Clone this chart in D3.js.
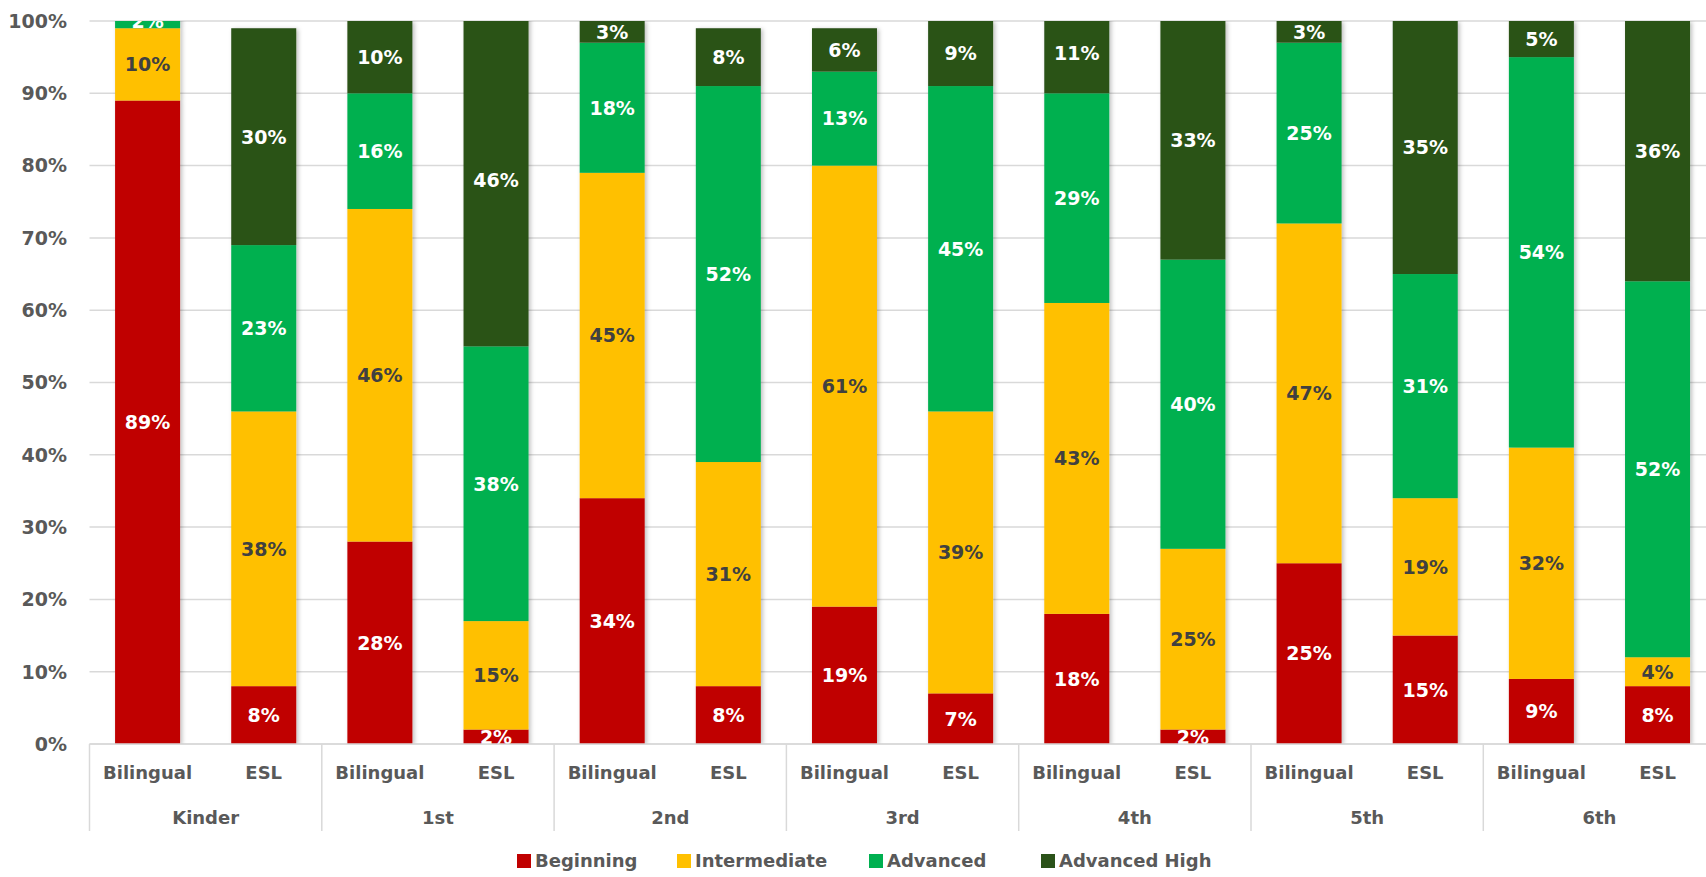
<!DOCTYPE html>
<html>
<head>
<meta charset="utf-8">
<script src="https://cdn.jsdelivr.net/npm/d3@7"></script>
<style>
  body { margin: 0; background: #fff; }
  text { font-family: "DejaVu Sans", Lato, sans-serif; font-weight: bold; }
</style>
</head>
<body>
<div id="chart"></div>
<script>

// data
let grades = ["Kinder", "1st", "2nd", "3rd", "4th", "5th", "6th"];
let programs = ["Bilingual", "ESL"];
let levels = ["Beginning", "Intermediate", "Advanced", "Advanced High"];
let colors = ["#C00000", "#FFC000", "#00B050", "#2B5219"];
let labelColors = ["#ffffff", "#404040", "#ffffff", "#ffffff"];

// one row per bar, in the order Kinder Bilingual, Kinder ESL, 1st Bilingual ...
let beginning    = [89,  8, 28,  2, 34,  8, 19,  7, 18,  2, 25, 15,  9,  8];
let intermediate = [10, 38, 46, 15, 45, 31, 61, 39, 43, 25, 47, 19, 32,  4];
let advanced     = [ 2, 23, 16, 38, 18, 52, 13, 45, 29, 40, 25, 31, 54, 52];
let advancedHigh = [ 0, 30, 10, 46,  3,  8,  6,  9, 11, 33,  3, 35,  5, 36];
let yTicks = [0, 10, 20, 30, 40, 50, 60, 70, 80, 90, 100];

let series = [beginning, intermediate, advanced, advancedHigh];

let bars = [];
grades.forEach(function(g, gi) {
    programs.forEach(function(p, pi) {
        let i = gi * programs.length + pi;
        let y0 = 0;
        let segs = series.map(function(s, li) {
            let seg = { level: li, y0: y0, y1: y0 + s[i], value: s[i] };
            y0 += s[i];
            return seg;
        });
        bars.push({ key: g + "|" + p, grade: g, program: p, segs: segs });
    });
});

let W = 1706, H = 877;
let plotLeft = 89.5, step = 116.15, barW = 65;
let plotTop = 21, plotBottom = 744;

let svg = d3.select("#chart")
            .append("svg")
            .attr("width", W)
            .attr("height", H);

let x = d3.scaleBand()
          .domain(bars.map(function(d) { return d.key; }))
          .range([plotLeft, plotLeft + step * bars.length])
          .padding(0);

let y = d3.scaleLinear()
          .domain([0, 100])
          .range([plotBottom, plotTop]);

// gridlines
svg.append("g")
   .selectAll("line")
   .data(yTicks)
   .enter()
   .append("line")
   .attr("x1", plotLeft)
   .attr("x2", W)
   .attr("y1", function(d) { return y(d); })
   .attr("y2", function(d) { return y(d); })
   .attr("stroke", "#d9d9d9")
   .attr("stroke-width", 1.5);

// y tick labels
svg.append("g")
   .selectAll("text")
   .data(yTicks)
   .enter()
   .append("text")
   .attr("x", 67)
   .attr("y", function(d) { return y(d); })
   .attr("dy", "0.36em")
   .attr("text-anchor", "end")
   .attr("fill", "#595959")
   .style("font-size", "19px")
   .text(function(d) { return d + "%"; });

let defs = svg.append("defs");
defs.append("clipPath")
    .attr("id", "plotClip")
    .append("rect")
    .attr("x", plotLeft)
    .attr("y", plotTop)
    .attr("width", W - plotLeft)
    .attr("height", plotBottom - plotTop);

let shadow = defs.append("filter")
                 .attr("id", "shadow")
                 .attr("x", "-20%").attr("y", "-5%")
                 .attr("width", "140%").attr("height", "110%");
shadow.append("feDropShadow")
      .attr("dx", 2).attr("dy", 1)
      .attr("stdDeviation", 2)
      .attr("flood-color", "#000")
      .attr("flood-opacity", 0.25);

let plot = svg.append("g").attr("clip-path", "url(#plotClip)");

let barG = plot.selectAll(".bar")
               .data(bars)
               .enter()
               .append("g")
               .attr("class", "bar")
               .attr("transform", function(d) {
                   return "translate(" + (x(d.key) + (x.bandwidth() - barW) / 2) + ",0)";
               });

barG.append("g")
    .attr("filter", "url(#shadow)")
    .selectAll("rect")
    .data(function(d) { return d.segs.filter(function(s) { return s.value > 0; }); })
    .enter()
    .append("rect")
    .attr("x", 0)
    .attr("width", barW)
    .attr("y", function(s) { return y(s.y1); })
    .attr("height", function(s) { return y(s.y0) - y(s.y1); })
    .attr("fill", function(s) { return colors[s.level]; });

barG.selectAll(".lbl")
    .data(function(d) { return d.segs.filter(function(s) { return s.value > 0; }); })
    .enter()
    .append("text")
    .attr("class", "lbl")
    .attr("x", barW / 2)
    .attr("y", function(s) { return y((s.y0 + s.y1) / 2); })
    .attr("dy", "0.36em")
    .attr("text-anchor", "middle")
    .attr("fill", function(s) { return labelColors[s.level]; })
    .style("font-size", "19px")
    .text(function(s) { return s.value + "%"; });

// category axis
svg.append("line")
   .attr("x1", plotLeft)
   .attr("x2", W)
   .attr("y1", plotBottom)
   .attr("y2", plotBottom)
   .attr("stroke", "#d9d9d9")
   .attr("stroke-width", 1.5);

svg.append("g")
   .selectAll("line")
   .data(d3.range(grades.length + 1))
   .enter()
   .append("line")
   .attr("x1", function(i) { return plotLeft + i * step * programs.length; })
   .attr("x2", function(i) { return plotLeft + i * step * programs.length; })
   .attr("y1", plotBottom)
   .attr("y2", 831)
   .attr("stroke", "#d9d9d9")
   .attr("stroke-width", 1.5);

svg.append("g")
   .selectAll("text")
   .data(bars)
   .enter()
   .append("text")
   .attr("x", function(d) { return x(d.key) + x.bandwidth() / 2; })
   .attr("y", 773)
   .attr("dy", "0.36em")
   .attr("text-anchor", "middle")
   .attr("fill", "#595959")
   .style("font-size", "18px")
   .text(function(d) { return d.program; });

svg.append("g")
   .selectAll("text")
   .data(grades)
   .enter()
   .append("text")
   .attr("x", function(g, i) { return plotLeft + (i + 0.5) * step * programs.length; })
   .attr("y", 818)
   .attr("dy", "0.36em")
   .attr("text-anchor", "middle")
   .attr("fill", "#595959")
   .style("font-size", "18px")
   .text(function(g) { return g; });

// legend
let legendX = [517, 677, 869, 1041];
let legend = svg.append("g")
                .selectAll("g")
                .data(levels)
                .enter()
                .append("g")
                .attr("transform", function(d, i) { return "translate(" + legendX[i] + ",861)"; });

legend.append("rect")
      .attr("x", 0)
      .attr("y", -7)
      .attr("width", 14)
      .attr("height", 14)
      .attr("fill", function(d, i) { return colors[i]; });

legend.append("text")
      .attr("x", 18)
      .attr("y", 0)
      .attr("dy", "0.36em")
      .attr("fill", "#595959")
      .style("font-size", "18px")
      .text(function(d) { return d; });

</script>
</body>
</html>
